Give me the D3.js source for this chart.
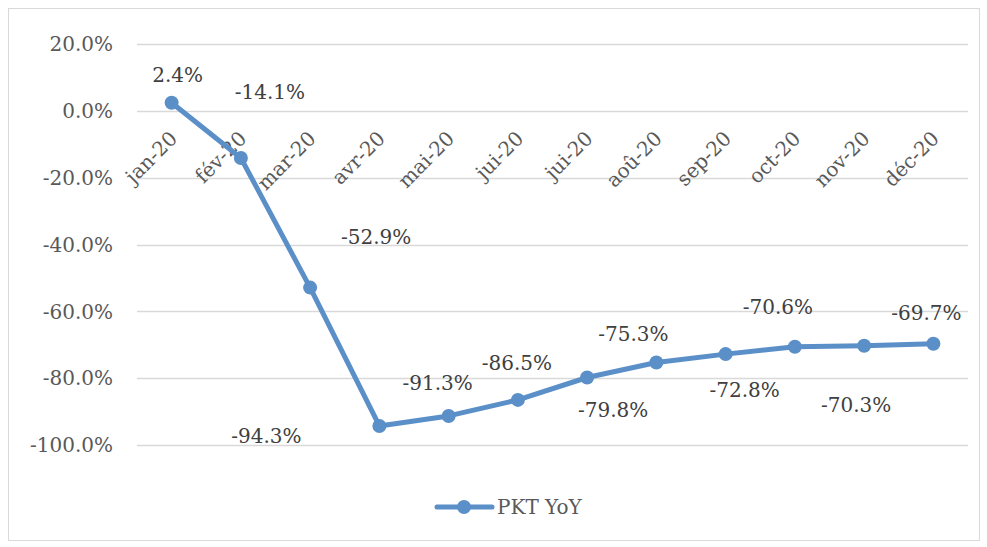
<!DOCTYPE html>
<html>
<head>
<meta charset="utf-8">
<script src="https://cdn.jsdelivr.net/npm/d3@7"></script>
<style>
  body { margin: 0; background: #fff; }
  text { font-family: "DejaVu Serif", serif; fill: #595959; }
</style>
</head>
<body>
<div id="chart"></div>
<script>
// Data
var months = ["jan-20", "fév-20", "mar-20", "avr-20", "mai-20", "jui-20",
              "jui-20 ", "aoû-20", "sep-20", "oct-20", "nov-20", "déc-20"];
var pktYoY = [2.4, -14.1, -52.9, -94.3, -91.3, -86.5, -79.8, -75.3, -72.8, -70.6, -70.3, -69.7];
var yTicks = [20, 0, -20, -40, -60, -80, -100];

// Label offsets from the point (Excel placed them by hand)
var labelOffsets = [
  [6, -28], [29, -66], [66, -51], [-113, 10], [-11, -33], [-1, -37],
  [26, 32], [-23, -29], [19, 36], [-17, -40], [-8, 59], [-7, -31]
];

var W = 987, H = 547;
var margin = {top: 44, left: 137, right: 19, bottom: 102};
var width = W - margin.left - margin.right,
    height = H - margin.top - margin.bottom;

var svg = d3.select("#chart").append("svg")
    .attr("width", W)
    .attr("height", H);

// Outer frame
svg.append("rect")
    .attr("x", 8.5).attr("y", 8.5)
    .attr("width", 971).attr("height", 532)
    .attr("fill", "none")
    .attr("stroke", "#d9d9d9");

var g = svg.append("g")
    .attr("transform", "translate(" + margin.left + "," + margin.top + ")");

var x = d3.scaleBand()
    .domain(d3.range(months.length))
    .range([0, width]);

var y = d3.scaleLinear()
    .domain([20, -100])
    .range([0, 401]);

// Gridlines
g.selectAll(".grid")
    .data(yTicks)
  .enter().append("line")
    .attr("x1", 0).attr("x2", width)
    .attr("y1", function(d) { return Math.round(y(d)) + 0.5; })
    .attr("y2", function(d) { return Math.round(y(d)) + 0.5; })
    .attr("stroke", "#d9d9d9")
    .attr("stroke-width", 1.5);

// Y axis labels
g.selectAll(".ylab")
    .data(yTicks)
  .enter().append("text")
    .attr("x", -24)
    .attr("y", function(d) { return y(d); })
    .attr("dy", "0.36em")
    .attr("text-anchor", "end")
    .style("font-size", "20px")
    .text(function(d) { return d.toFixed(1) + "%"; });

// X axis labels, rotated
g.selectAll(".xlab")
    .data(months)
  .enter().append("text")
    .attr("transform", function(d, i) {
      return "translate(" + (x(i) + x.bandwidth() / 2 + 2) + "," + (y(0) + 24) + ") rotate(-45)";
    })
    .attr("text-anchor", "end")
    .attr("dy", "0.35em")
    .style("font-size", "20px")
    .text(function(d) { return d.trim(); });

var cx = function(d, i) { return x(i) + x.bandwidth() / 2; };

// Line
var line = d3.line()
    .x(function(d, i) { return cx(d, i); })
    .y(function(d) { return y(d); });

g.append("path")
    .datum(pktYoY)
    .attr("d", line)
    .attr("fill", "none")
    .attr("stroke", "#5b8fc8")
    .attr("stroke-width", 5)
    .attr("stroke-linejoin", "round");

g.selectAll(".dot")
    .data(pktYoY)
  .enter().append("circle")
    .attr("cx", cx)
    .attr("cy", function(d) { return y(d); })
    .attr("r", 7)
    .attr("fill", "#5b8fc8");

// Data labels
g.selectAll(".vlab")
    .data(pktYoY)
  .enter().append("text")
    .attr("x", function(d, i) { return cx(d, i) + labelOffsets[i][0]; })
    .attr("y", function(d, i) { return y(d) + labelOffsets[i][1]; })
    .attr("dy", "0.36em")
    .attr("text-anchor", "middle")
    .style("font-size", "20px")
    .style("fill", "#404040")
    .text(function(d) { return d.toFixed(1) + "%"; });

// Legend
var lg = svg.append("g").attr("transform", "translate(437,507)");
lg.append("line")
    .attr("x1", 0).attr("x2", 55)
    .attr("stroke", "#5b8fc8").attr("stroke-width", 5)
    .attr("stroke-linecap", "round");
lg.append("circle").attr("cx", 27).attr("r", 7).attr("fill", "#5b8fc8");
lg.append("text")
    .attr("x", 60).attr("dy", "0.36em")
    .style("font-size", "20px")
    .text("PKT YoY");
</script>
</body>
</html>
